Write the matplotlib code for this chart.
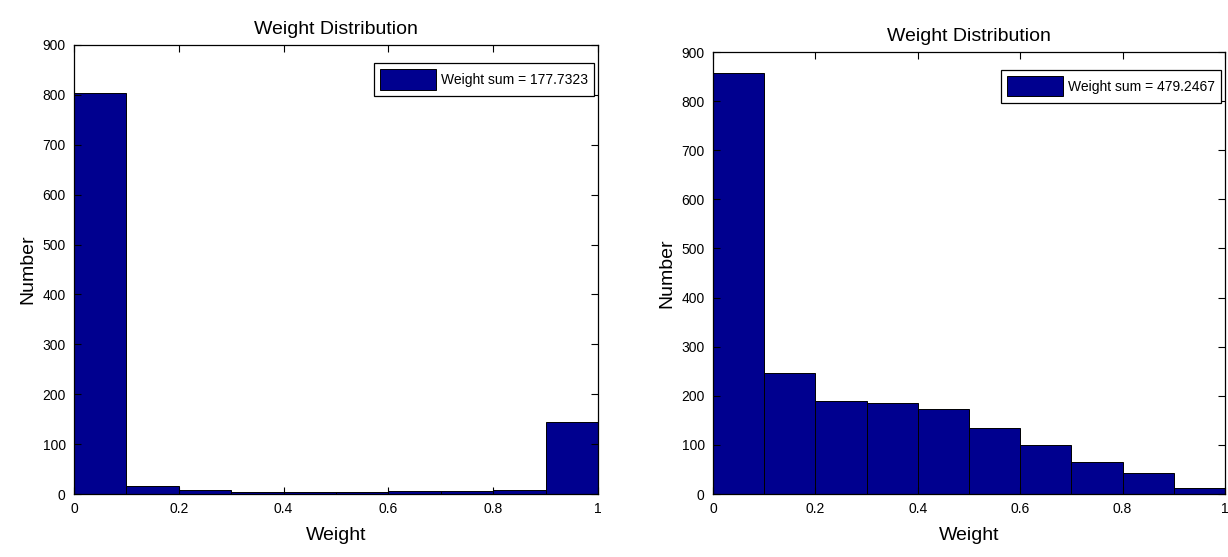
import matplotlib.pyplot as plt
import numpy as np

plt.rcParams['font.family'] = ['Liberation Sans Narrow', 'Liberation Sans', 'DejaVu Sans']

bin_left = [0.0, 0.1, 0.2, 0.3, 0.4, 0.5, 0.6, 0.7, 0.8, 0.9]
bin_width = 0.1

counts_a = [803, 16, 8, 5, 5, 5, 7, 7, 8, 145]
counts_b = [857, 247, 190, 185, 173, 135, 100, 66, 43, 12]

label_a = "Weight sum = 177.7323"
label_b = "Weight sum = 479.2467"

x_ticks = [0, 0.2, 0.4, 0.6, 0.8, 1]
x_ticklabels = ["0", "0.2", "0.4", "0.6", "0.8", "1"]
y_ticks = [0, 100, 200, 300, 400, 500, 600, 700, 800, 900]

bar_color = '#00008F'

fig = plt.figure(figsize=(12.28, 5.57), dpi=100)

ax1 = fig.add_axes([74/1228, 1 - 494/557, (598 - 74)/1228, (494 - 45)/557])
ax2 = fig.add_axes([713/1228, 1 - 494/557, (1225 - 713)/1228, (494 - 52)/557])


def draw(ax, counts, label):
    ax.bar(bin_left, counts, width=bin_width, align='edge', color=bar_color,
           edgecolor='black', linewidth=0.7, label=label)
    ax.set_xlim(0, 1)
    ax.set_ylim(0, 900)
    ax.set_xticks(x_ticks)
    ax.set_xticklabels(x_ticklabels)
    ax.set_yticks(y_ticks)
    ax.tick_params(direction='in', top=True, right=True, length=5, width=0.8,
                   labelsize=10, pad=6, colors='black')
    for s in ax.spines.values():
        s.set_linewidth(0.9)
    ax.set_title("Weight Distribution", fontsize=14, pad=8)
    ax.set_xlabel("Weight", fontsize=14, labelpad=8)
    ax.set_ylabel("Number", fontsize=14, labelpad=4)
    leg = ax.legend(loc='upper right', bbox_to_anchor=(0.993, 0.96), borderaxespad=0,
                    fontsize=10, handlelength=4.0, handleheight=1.9, handletextpad=0.4,
                    fancybox=False, framealpha=1, borderpad=0.45)
    leg.get_frame().set_edgecolor('black')
    leg.get_frame().set_linewidth(0.9)


draw(ax1, counts_a, label_a)
draw(ax2, counts_b, label_b)

fig.savefig('out.png', dpi=100)
